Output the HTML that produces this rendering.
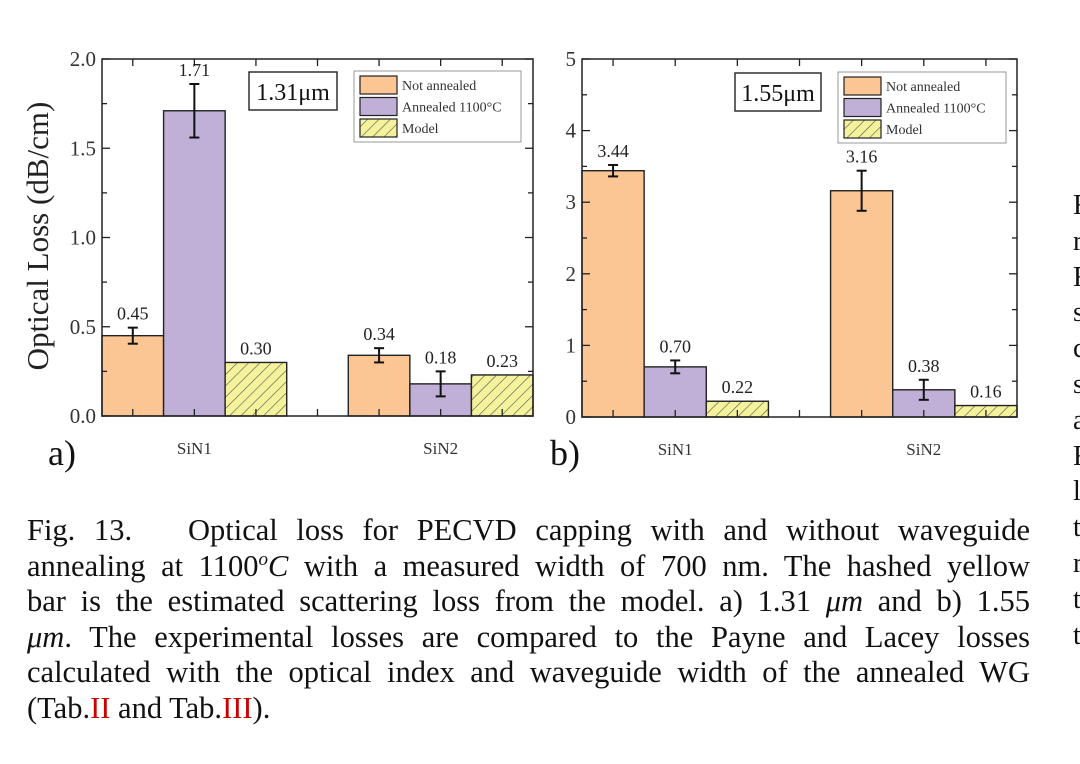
<!DOCTYPE html>
<html><head><meta charset="utf-8"><style>
body{margin:0;width:1080px;height:764px;background:#fff;overflow:hidden;position:relative;font-family:"Liberation Serif",serif}
.cap{position:absolute;left:27px;top:513px;width:1003px;font-size:30.5px;line-height:35.6px;color:#111}
.cap div{text-align:justify;text-align-last:justify;white-space:nowrap;height:35.6px}
.cap div.last{text-align-last:left}
.cap sup{font-size:19px;line-height:0;vertical-align:11px}
.red{color:#c00}
.side{position:absolute;left:1073px;top:188px;width:7px;overflow:hidden;font-size:28px;line-height:35.8px;color:#111}
</style></head><body>
<svg width="1080" height="500" style="position:absolute;left:0;top:0">
<defs><pattern id="hatch" patternUnits="userSpaceOnUse" width="8" height="8" patternTransform="rotate(45)">
<rect width="8" height="8" fill="#f4f29a"/><line x1="0" y1="0" x2="0" y2="8" stroke="#555" stroke-width="1.2"/></pattern></defs>
<g id="ga"></g><g id="gb"></g>
</svg>
<div class="cap">
<div>Fig. 13.&nbsp;&nbsp; Optical loss for PECVD capping with and without waveguide</div>
<div>annealing at 1100<i><sup>o</sup>C</i> with a measured width of 700 nm. The hashed yellow</div>
<div>bar is the estimated scattering loss from the model. a) 1.31 <i>μm</i> and b) 1.55</div>
<div><i>μm</i>. The experimental losses are compared to the Payne and Lacey losses</div>
<div>calculated with the optical index and waveguide width of the annealed WG</div>
<div class="last">(Tab.<span class="red">II</span> and Tab.<span class="red">III</span>).</div>
</div>
<div class="side">F<br>r<br>F<br>s<br>c<br>s<br>a<br>F<br>l<br>t<br>r<br>t<br>t</div>
<script>
const categories=["SiN1","SiN2"];
const seriesNames=["Not annealed","Annealed 1100°C","Model"];
const aNot=[0.45,0.34], aAnn=[1.71,0.18], aModel=[0.30,0.23];
const aNotErr=[0.045,0.04], aAnnErr=[0.15,0.07];
const bNot=[3.44,3.16], bAnn=[0.70,0.38], bModel=[0.22,0.16];
const bNotErr=[0.08,0.28], bAnnErr=[0.09,0.14];
const aLabels=["0.45","1.71","0.30","0.34","0.18","0.23"];
const bLabels=["3.44","0.70","0.22","3.16","0.38","0.16"];
const aTicks=["0.0","0.5","1.0","1.5","2.0"];
const bTicks=["0","1","2","3","4","5"];
const NS="http://www.w3.org/2000/svg";
function mk(p,t,at,txt){const e=document.createElementNS(NS,t);for(const k in at)e.setAttribute(k,at[k]);if(txt!=null)e.textContent=txt;p.appendChild(e);return e;}
function chart(g,o){
 const {L,R,T,B,ymax,major,minor,ticks,vals,errs,labels,tag,wl,wlBox,leg,letter,lx}=o;
 const y=v=>B-(v/ymax)*(B-T);
 const slot=(R-L)/7;
 const x=i=>L+i*slot;
 const fills=["#fbc594","#c0afd6","url(#hatch)"];
 let li=0;
 for(let c=0;c<categories.length;c++){
  for(let s=0;s<3;s++){
   const idx=c*4+s;const v=vals[s][c];
   const r=mk(g,"rect",{x:x(idx),y:y(v),width:slot,height:B-y(v),fill:fills[s],stroke:"#222","stroke-width":1.4});
   
   
   const cx=x(idx)+slot/2;
   let top=y(v);
   if(s<2){const e=errs[s][c];
    const eg=mk(g,"g",{stroke:"#111","stroke-width":2});
    
    
    mk(eg,"line",{x1:cx,x2:cx,y1:y(v+e),y2:y(v-e)});
    mk(eg,"line",{x1:cx-5,x2:cx+5,y1:y(v+e),y2:y(v+e)});
    mk(eg,"line",{x1:cx-5,x2:cx+5,y1:y(v-e),y2:y(v-e)});
    top=y(v+e);}
   const t=mk(g,"text",{x:cx,y:top-8,"text-anchor":"middle","font-size":18,fill:"#222"},labels[li++]);
   
   
  }
 }
 const f=mk(g,"rect",{x:L,y:T,width:R-L,height:B-T,fill:"none",stroke:"#222","stroke-width":1.5});
 
 
 for(let v=0;v<=ymax+1e-9;v+=minor){
  const isM=Math.abs(v/major-Math.round(v/major))<1e-6;const len=isM?8:5;
  mk(g,"line",{x1:L,x2:L+len,y1:y(v),y2:y(v),stroke:"#222","stroke-width":1.3});
  mk(g,"line",{x1:R,x2:R-len,y1:y(v),y2:y(v),stroke:"#222","stroke-width":1.3});
 }
 ticks.forEach((tl,i)=>{const t=mk(g,"text",{x:L-6,y:y(i*major)+7,"text-anchor":"end","font-size":21,fill:"#333"},tl);
  
  });
 for(let i=0;i<7;i++){const cx=x(i)+slot/2;
  mk(g,"line",{x1:cx,x2:cx,y1:T,y2:T+7,stroke:"#222","stroke-width":1.3});
  mk(g,"line",{x1:cx,x2:cx,y1:B,y2:B-7,stroke:"#222","stroke-width":1.3});}
 categories.forEach((c,i)=>{const t=mk(g,"text",{x:x(i*4+1)+slot/2,y:B+38,"text-anchor":"middle","font-size":17,fill:"#333"},c);
  
  });
 const wb=mk(g,"g",{});
 
 
 mk(wb,"rect",{x:wlBox[0],y:wlBox[1],width:wlBox[2],height:wlBox[3],fill:"#fff",stroke:"#222","stroke-width":1.4});
 mk(wb,"text",{x:wlBox[0]+wlBox[2]/2,y:wlBox[1]+28,"text-anchor":"middle","font-size":24,fill:"#111"},wl);
 const lg=mk(g,"g",{});
 
 
 mk(lg,"rect",{x:leg[0],y:leg[1],width:leg[2],height:leg[3],fill:"#fff",stroke:"#999","stroke-width":1});
 seriesNames.forEach((n,i)=>{const yy=leg[1]+5+i*21.5;
  mk(lg,"rect",{x:leg[0]+6,y:yy,width:37,height:18,fill:fills[i],stroke:"#222","stroke-width":1.2});
  mk(lg,"text",{x:leg[0]+48,y:yy+14,"font-size":14,fill:"#333"},n);});
 const lt=mk(g,"text",{x:lx,y:465,"font-size":36,fill:"#111"},letter);
 
 
}
chart(document.getElementById('ga'),{L:102,R:533,T:59,B:416,ymax:2,major:0.5,minor:0.25,ticks:aTicks,
 vals:[aNot,aAnn,aModel],errs:[aNotErr,aAnnErr],labels:aLabels,tag:'a',wl:"1.31μm",wlBox:[249,72,88,38],
 leg:[354,71,167,71],letter:"a)",lx:48});
chart(document.getElementById('gb'),{L:582,R:1017,T:59,B:417,ymax:5,major:1,minor:0.5,ticks:bTicks,
 vals:[bNot,bAnn,bModel],errs:[bNotErr,bAnnErr],labels:bLabels,tag:'b',wl:"1.55μm",wlBox:[735,73,86,38],
 leg:[838,72,168,71],letter:"b)",lx:550});
const g=document.getElementById('ga');
const yt=mk(g,"text",{x:0,y:0,"font-size":31,fill:"#222","text-anchor":"middle",transform:"translate(48,236) rotate(-90)"},"Optical Loss (dB/cm)");


</script>
</body></html>
